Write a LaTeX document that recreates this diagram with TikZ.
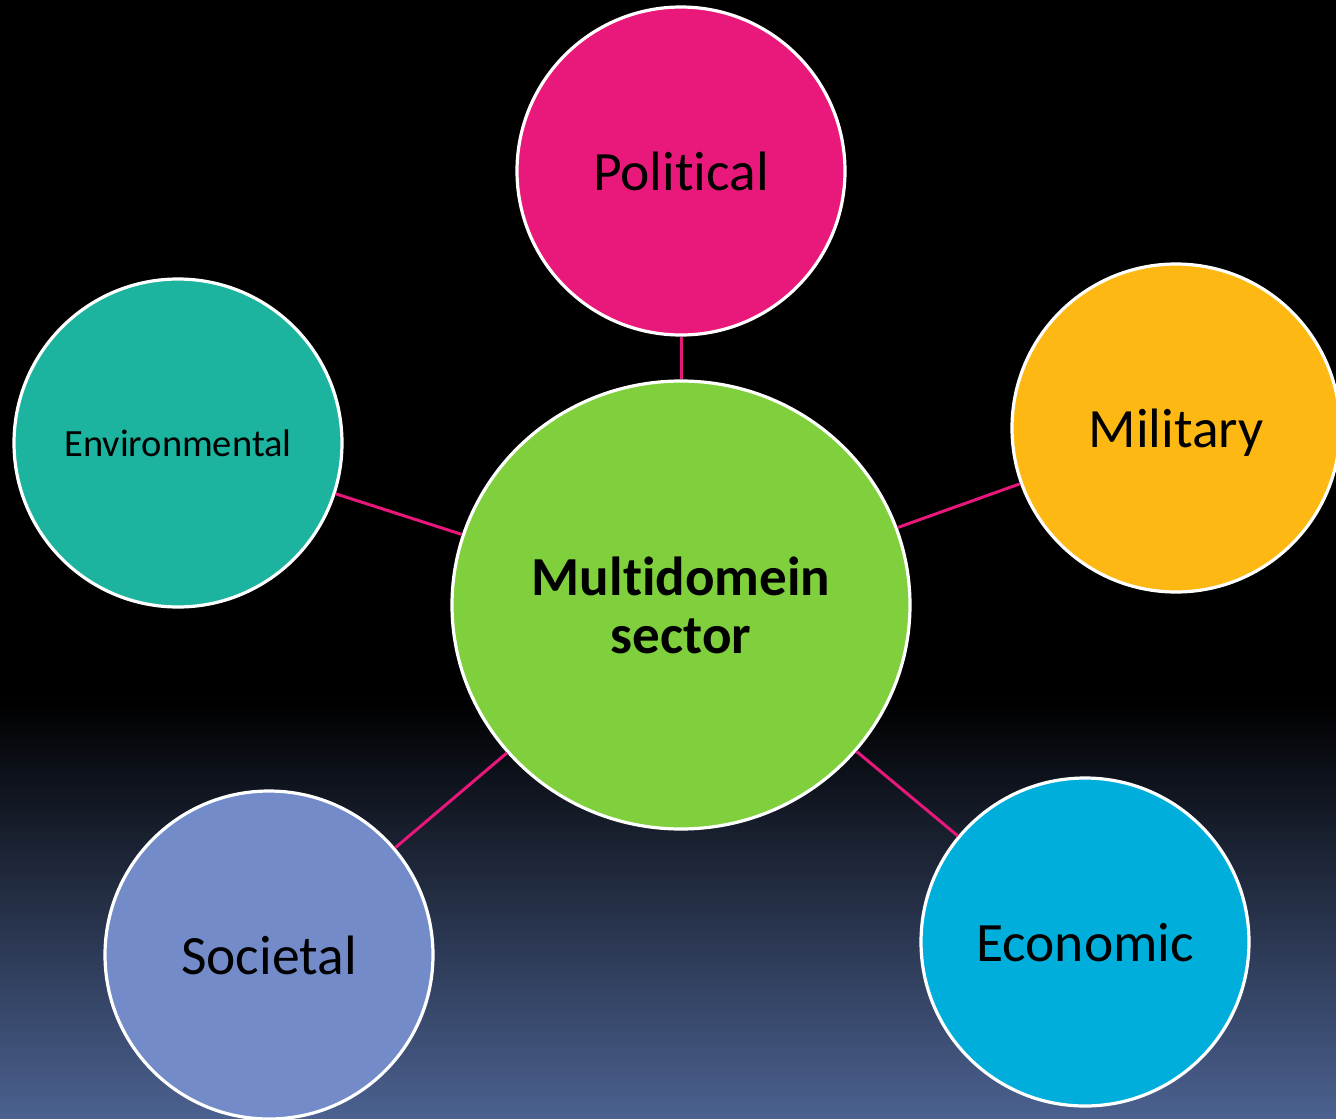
\documentclass[tikz,border=0pt]{standalone}
\usepackage{fontspec}
\setmainfont{Carlito}[Ligatures=NoCommon]
\usetikzlibrary{shapes.geometric}
\definecolor{polc}{HTML}{E9197B}
\definecolor{envc}{HTML}{1CB39F}
\definecolor{milc}{HTML}{FDB813}
\definecolor{grnc}{HTML}{7FD03C}
\definecolor{socc}{HTML}{738BC8}
\definecolor{ecoc}{HTML}{00AEDC}
\definecolor{linkc}{HTML}{E8177B}
\definecolor{bgbot}{HTML}{4B6190}
\begin{document}
\begin{tikzpicture}[x=1pt,y=-1pt,
  bubble/.style={circle,draw=white,line width=3.2pt,minimum size=328pt,inner sep=0pt},
  lbl/.style={anchor=base,inner sep=0pt,text=black,font=\fontsize{55.5}{58}\selectfont},
  hub/.style={ellipse,draw=white,line width=3.2pt,minimum width=458pt,minimum height=448pt,
    inner sep=0pt,fill=grnc,text=black,align=center,font=\fontsize{55}{58}\selectfont\bfseries},
  link/.style={draw=linkc,line width=3pt}]
\useasboundingbox (0,0) rectangle (1336,1119);
\fill[black] (0,0) rectangle (1336,1119);
\shade[top color=black,bottom color=bgbot] (0,700) rectangle (1336,1119);
\node[hub] (hub) at (681,605) {Multidomein\\sector};
\node[bubble,fill=polc] (pol) at (681,171) {};
\node[bubble,fill=envc] (env) at (178,443) {};
\node[bubble,fill=milc] (mil) at (1176,428) {};
\node[bubble,fill=socc] (soc) at (269,955) {};
\node[bubble,fill=ecoc] (eco) at (1085,942) {};
\node[lbl] (polt) at ([yshift=-19pt]pol.center) {Political};
\node[lbl,font=\fontsize{38.5}{42}\selectfont] (envt) at ([yshift=-13pt]env.center) {Environmental};
\node[lbl] (milt) at ([yshift=-19pt]mil.center) {Military};
\node[lbl] (soct) at ([yshift=-19pt]soc.center) {Societal};
\node[lbl] (ecot) at ([yshift=-19pt]eco.center) {Economic};
\draw[link] (pol) -- (hub);
\draw[link] (env) -- (hub);
\draw[link] (mil) -- (hub);
\draw[link] (soc) -- (hub);
\draw[link] (eco) -- (hub);
\end{tikzpicture}
\end{document}
